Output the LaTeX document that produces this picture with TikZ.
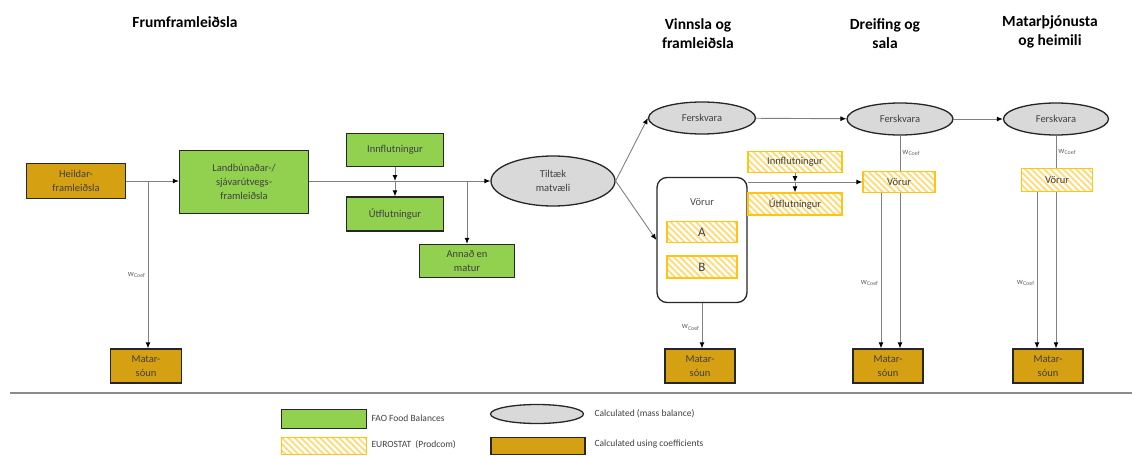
\documentclass[tikz,border=0pt]{standalone}
\usepackage{fontspec}
\setmainfont{Carlito}
\usetikzlibrary{shapes.geometric, arrows.meta, patterns.meta}
\definecolor{faogreen}{RGB}{146,208,80}
\definecolor{coeforange}{RGB}{213,160,18}
\definecolor{massgray}{RGB}{217,217,217}
\definecolor{prodyellow}{RGB}{255,196,20}
\definecolor{prodstripe}{RGB}{255,218,115}
\definecolor{linegray}{RGB}{128,128,128}
\tikzstyle{base} = [draw=black!85, line width=1.3pt, inner sep=0pt, align=center, text=black!75, font=\fontsize{10.5}{14}\selectfont]
\tikzstyle{faobox} = [base, rectangle, fill=faogreen]
\tikzstyle{coefbox} = [base, rectangle, fill=coeforange]
\tikzstyle{massell} = [base, ellipse, fill=massgray]
\tikzstyle{prodbox} = [base, rectangle, draw=prodyellow, pattern={Lines[angle=-45,distance=4.5pt,line width=1.8pt]}, pattern color=prodstripe]
\tikzstyle{groupbox} = [base, rectangle, rounded corners=10pt, fill=white]
\tikzstyle{arrow} = [draw=linegray, line width=0.9pt, -{Latex[length=6pt,width=5pt,color=black]}]
\tikzstyle{plainline} = [draw=linegray, line width=0.9pt]
\tikzstyle{wlabel} = [font=\fontsize{8.5}{9}\selectfont, text=black!60, inner sep=2pt]
\tikzstyle{title} = [font=\fontsize{15.5}{19}\selectfont\bfseries, align=center]
\tikzstyle{legtext} = [font=\fontsize{9.5}{11}\selectfont, text=black!75, anchor=west]

\begin{document}
\begin{tikzpicture}[x=1pt, y=-1pt]
            \useasboundingbox (0,0) rectangle (1132,455);
            % stage titles
            \node [title] at (185,22) (t1) {Frumframleiðsla};
            \node [title] at (698,34) (t2) {Vinnsla og\\framleiðsla};
            \node [title] at (885,34) (t3) {Dreifing og\\sala};
            \node [title] at (1050,32) (t4) {Matarþjónusta\\og heimili};
            % primary production
            \node [coefbox, minimum width=99pt, minimum height=35pt] at (76,181) (heildar) {Heildar-\\framleiðsla};
            \node [faobox, minimum width=129pt, minimum height=63pt] at (244,182) (land) {Landbúnaðar-/\\sjávarútvegs-\\framleiðsla};
            \node [faobox, minimum width=97pt, minimum height=33pt] at (395,150) (inn1) {Innflutningur};
            \node [faobox, minimum width=97pt, minimum height=34pt] at (395,214) (utf1) {Útflutningur};
            \node [faobox, minimum width=95pt, minimum height=33pt] at (467,261) (annad) {Annað en\\matur};
            \node [massell, minimum width=124pt, minimum height=50pt] at (553,181) (tiltaek) {Tiltæk\\matvæli};
            % processing
            \node [massell, minimum width=107pt, minimum height=32pt] at (702,118) (fersk1) {Ferskvara};
            \node [groupbox, minimum width=90pt, minimum height=125pt] at (702,240) (vorur1) {};
            \node [font=\fontsize{10.5}{14}\selectfont, text=black!70] at (702,202) (vorurlab) {Vörur};
            \node [prodbox, minimum width=70pt, minimum height=21pt, font=\fontsize{13}{14}\selectfont] at (702,232) (vA) {A};
            \node [prodbox, minimum width=70pt, minimum height=22pt, font=\fontsize{13}{14}\selectfont] at (702,267) (vB) {B};
            \node [prodbox, minimum width=94pt, minimum height=21pt] at (795,162) (inn2) {Innflutningur};
            \node [prodbox, minimum width=94pt, minimum height=22pt] at (795,204) (utf2) {Útflutningur};
            % distribution and households
            \node [massell, minimum width=106pt, minimum height=32pt] at (900,119) (fersk2) {Ferskvara};
            \node [prodbox, minimum width=72pt, minimum height=21pt] at (899,182) (vorur2) {Vörur};
            \node [massell, minimum width=105pt, minimum height=32pt] at (1056,119) (fersk3) {Ferskvara};
            \node [prodbox, minimum width=71pt, minimum height=23pt] at (1057,180) (vorur3) {Vörur};
            % food waste
            \node [coefbox, minimum width=71pt, minimum height=34pt] at (146,366) (mat1) {Matar-\\sóun};
            \node [coefbox, minimum width=70pt, minimum height=34pt] at (700,366) (mat2) {Matar-\\sóun};
            \node [coefbox, minimum width=70pt, minimum height=34pt] at (888,366) (mat3) {Matar-\\sóun};
            \node [coefbox, minimum width=70pt, minimum height=34pt] at (1048,366) (mat4) {Matar-\\sóun};
            \coordinate (br1) at (148,181);
            \coordinate (v2out) at (881,193);
            \coordinate (v3out) at (1037,192);
            % flows
            \draw [arrow] (heildar.east |- br1) -- (land.west |- br1);
            \draw [arrow] (br1) -- node[wlabel, left, pos=0.56] {w\textsubscript{Coef}} (br1 |- mat1.north);
            \draw [arrow] (land.east |- br1) -- (tiltaek.west);
            \draw [arrow] (inn1) -- (inn1 |- br1);
            \draw [arrow] (inn1 |- br1) -- (utf1);
            \draw [arrow] (annad |- br1) -- (annad);
            \draw [arrow] (tiltaek.east) -- (fersk1.west);
            \draw [arrow] (tiltaek.east) -- (vorur1.west);
            \draw [arrow] (fersk1) -- (fersk2);
            \draw [arrow] (fersk2) -- (fersk3);
            \draw [arrow] (vorur1.east |- vorur2) -- (vorur2.west);
            \draw [arrow] (inn2) -- (inn2 |- vorur2);
            \draw [arrow] (inn2 |- vorur2) -- (utf2);
            \draw [arrow] (vorur1.south) -- node[wlabel, left, pos=0.54] {w\textsubscript{Coef}} (vorur1.south |- mat2.north);
            \draw [plainline] (fersk2.south) -- node[wlabel, right, pos=0.5] {w\textsubscript{Coef}} (fersk2.south |- vorur2.north);
            \draw [arrow] (fersk2.south |- vorur2.south) -- (fersk2.south |- mat3.north);
            \draw [arrow] (v2out) -- node[wlabel, left, pos=0.58] {w\textsubscript{Coef}} (v2out |- mat3.north);
            \draw [plainline] (fersk3.south) -- node[wlabel, right, pos=0.5] {w\textsubscript{Coef}} (fersk3.south |- vorur3.north);
            \draw [arrow] (fersk3.south |- vorur3.south) -- (fersk3.south |- mat4.north);
            \draw [arrow] (v3out) -- node[wlabel, left, pos=0.58] {w\textsubscript{Coef}} (v3out |- mat4.north);
            % separator and legend
            \draw [draw=black!45, line width=1.4pt] (10,393) -- (1132,393);
            \node [faobox, minimum width=85pt, minimum height=19pt] at (324,419) (lg1) {};
            \node [prodbox, minimum width=85pt, minimum height=17pt] at (324,446) (lg2) {};
            \node [massell, minimum width=93pt, minimum height=19pt] at (537,414) (lg3) {};
            \node [coefbox, minimum width=94pt, minimum height=17pt] at (538,446) (lg4) {};
            \node [legtext] at (368,418) (lt1) {FAO Food Balances};
            \node [legtext] at (368,445) (lt2) {EUROSTAT\ \ (Prodcom)};
            \node [legtext] at (591,414) (lt3) {Calculated (mass balance)};
            \node [legtext] at (591,444) (lt4) {Calculated using coefficients};
            \end{tikzpicture}
\end{document}
